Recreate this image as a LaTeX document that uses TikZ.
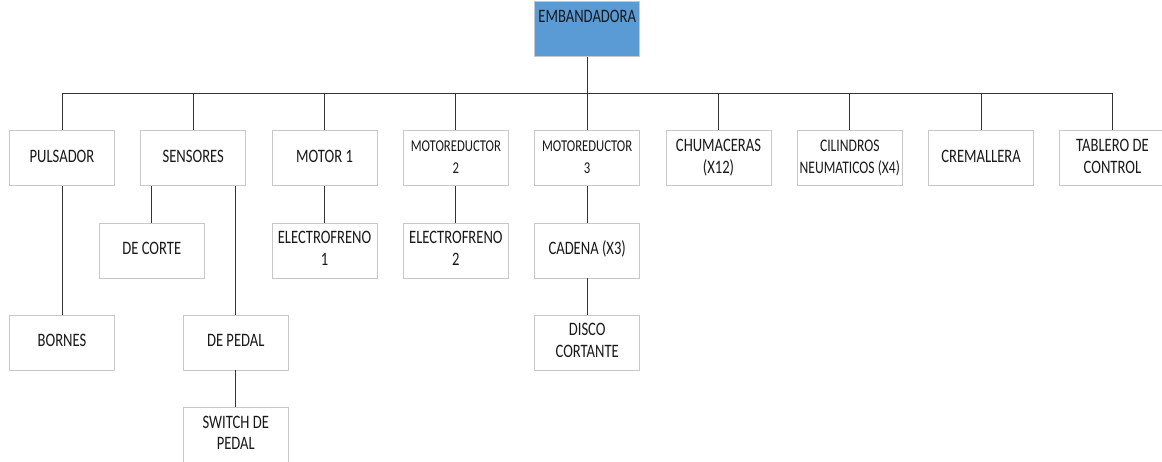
\documentclass[tikz,border=0pt]{standalone}
\usepackage{fontspec}
\setmainfont{Carlito}
\usepackage{graphicx}
\newcommand{\lbl}[1]{\scalebox{1}[1.3]{\begin{tabular}{@{}c@{}}#1\end{tabular}}}
\definecolor{boxblue}{RGB}{91,155,213}
\definecolor{boxedge}{RGB}{200,200,200}
\begin{document}
\begin{tikzpicture}[x=1pt,y=-1pt,
  box/.style={draw=boxedge, line width=0.9pt, fill=white, minimum width=105pt,
    minimum height=55pt, inner sep=0pt, font=\fontsize{14.6}{16.7}\selectfont, text=black!90},
  smalltext/.style={font=\fontsize{12.7}{16.7}\selectfont},
  midtext/.style={font=\fontsize{13.6}{16.7}\selectfont},
  link/.style={draw=black!80, line width=0.9pt}]
\clip (0,0) rectangle (1162,462);
% root
\node[box, fill=boxblue, minimum height=0pt, text height=21.6pt, text depth=33.4pt] (emb) at (587.2,29.2) {\lbl{EMBANDADORA}};
% row 1
\node[box] (pul) at (62,158.2) {\lbl{PULSADOR}};
\node[box] (sen) at (193.3,158.2) {\lbl{SENSORES}};
\node[box] (mo1) at (324.6,158.2) {\lbl{MOTOR 1}};
\node[box, smalltext] (mr2) at (455.9,158.2) {\lbl{MOTOREDUCTOR\\2}};
\node[box, smalltext] (mr3) at (587.2,158.2) {\lbl{MOTOREDUCTOR\\3}};
\node[box] (chu) at (718.5,158.2) {\lbl{CHUMACERAS\\(X12)}};
\node[box, midtext] (cil) at (849.8,158.2) {\lbl{CILINDROS\\NEUMATICOS (X4)}};
\node[box] (cre) at (981.1,158.2) {\lbl{CREMALLERA}};
\node[box] (tab) at (1112.4,158.2) {\lbl{TABLERO DE\\CONTROL}};
% row 2
\node[box] (dco) at (151.8,250.5) {\lbl{DE CORTE}};
\node[box] (el1) at (324.6,250.5) {\lbl{ELECTROFRENO\\1}};
\node[box] (el2) at (455.9,250.5) {\lbl{ELECTROFRENO\\2}};
\node[box] (cad) at (587.2,250.5) {\lbl{CADENA (X3)}};
% row 3
\node[box] (bor) at (62,342.5) {\lbl{BORNES}};
\node[box] (dpe) at (235.8,342.5) {\lbl{DE PEDAL}};
\node[box] (dis) at (587.2,342.5) {\lbl{DISCO\\CORTANTE}};
% row 4
\node[box] (swi) at (235.8,434.8) {\lbl{SWITCH DE\\PEDAL}};
% bus
\coordinate (bus) at (0,93.3);
\draw[link] (emb.south) -- (emb.south |- bus);
\draw[link] (pul.north |- bus) -- (tab.north |- bus);
\foreach \n in {pul,sen,mo1,mr2,mr3,chu,cil,cre,tab}
  \draw[link] (\n.north |- bus) -- (\n.north);
% sub links
\draw[link] (pul.south) -- (bor.north);
\draw[link] (sen.south -| dco.north) -- (dco.north);
\draw[link] (sen.south -| dpe.north) -- (dpe.north);
\draw[link] (dpe.south) -- (swi.north);
\draw[link] (mo1.south) -- (el1.north);
\draw[link] (mr2.south) -- (el2.north);
\draw[link] (mr3.south) -- (cad.north);
\draw[link] (cad.south) -- (dis.north);
\end{tikzpicture}
\end{document}
